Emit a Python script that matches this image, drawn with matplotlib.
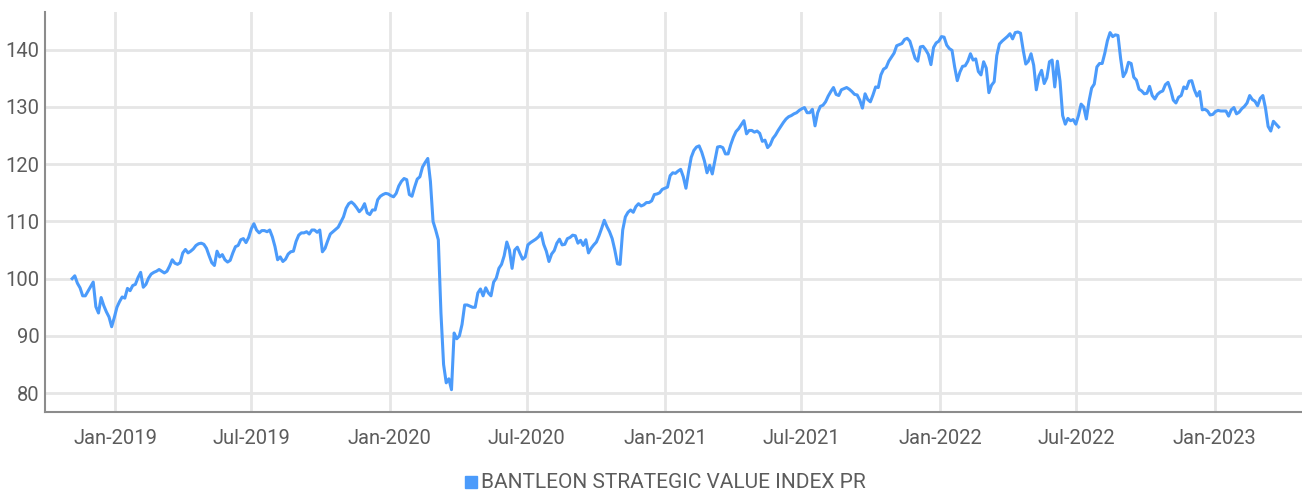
import matplotlib
matplotlib.use('Agg')
import matplotlib.pyplot as plt
import matplotlib.dates as mdates
import pandas as pd

# index closes: Mondays from 2018-11-05, plus the Thursday in between
start_date = '2018-11-05'
monday_values = [
    100.0, 99.2, 97.0, 97.8, 99.4, 94.0, 95.3, 93.3, 93.2, 96.0,
    96.6, 97.9, 99.0, 101.1, 99.0, 100.8, 101.3, 101.3, 101.3, 103.3,
    102.5, 104.5, 104.5, 105.2, 106.1, 106.0, 104.0, 102.3, 103.8, 103.3,
    103.2, 105.6, 106.8, 106.3, 108.7, 108.5, 108.4, 108.2, 107.3, 103.3,
    103.0, 104.3, 104.8, 107.6, 108.0, 107.8, 108.5, 108.5, 105.3, 107.8,
    108.6, 109.9, 112.3, 113.4, 112.4, 112.2, 111.5, 112.0, 113.8, 114.7,
    114.8, 114.3, 116.2, 117.5, 114.7, 116.0, 117.8, 120.3, 117.0, 108.5,
    94.0, 81.8, 80.6, 89.5, 92.0, 95.4, 95.0, 97.5, 97.0, 97.5,
    99.4, 101.8, 104.0, 105.0, 105.0, 104.4, 103.8, 106.3, 106.9, 108.0,
    104.8, 104.3, 106.2, 105.9, 107.0, 107.6, 106.2, 105.8, 104.5, 105.9,
    107.5, 110.2, 108.2, 105.0, 102.5, 110.8, 112.0, 112.6, 112.7, 113.3,
    113.6, 114.8, 115.6, 116.0, 118.5, 118.8, 117.8, 118.7, 122.4, 123.2,
    120.6, 119.8, 120.7, 123.1, 121.8, 123.4, 125.7, 126.9, 125.3, 125.9,
    125.8, 124.0, 122.9, 124.5, 125.9, 127.3, 128.3, 128.8, 129.4, 129.9,
    129.0, 126.7, 130.1, 130.9, 132.7, 132.2, 133.0, 133.4, 132.7, 132.1,
    129.8, 131.3, 132.1, 133.4, 136.6, 138.0, 139.4, 140.9, 141.8, 141.5,
    138.5, 140.5, 140.0, 137.4, 141.2, 142.3, 140.8, 139.9, 134.6, 137.1,
    138.0, 138.2, 136.2, 137.9, 132.5, 134.4, 141.0, 141.9, 142.8, 143.0,
    142.9, 137.5, 139.3, 133.0, 136.4, 135.1, 138.2, 138.0, 128.5, 128.0,
    127.8, 128.5, 130.0, 131.0, 134.0, 137.6, 139.4, 143.0, 142.6, 138.5,
    136.1, 137.6, 134.7, 132.8, 132.4, 132.0, 132.2, 132.8, 134.3, 131.2,
    131.7, 133.5, 134.5, 133.0, 132.7, 129.6, 128.6, 129.2, 129.3, 129.3,
    129.5, 128.8, 129.7, 130.7, 131.3, 130.2, 132.0, 126.6, 127.5, 126.5,
]
thursday_values = [
    100.5, 98.4, 97.0, 98.6, 95.1, 96.7, 94.2, 91.6, 95.0, 96.8,
    98.3, 98.8, 100.2, 98.5, 100.1, 101.1, 101.6, 101.0, 102.2, 102.7,
    102.8, 105.1, 104.8, 105.8, 106.2, 105.3, 102.8, 104.8, 104.2, 102.9,
    104.5, 105.8, 107.0, 107.2, 109.6, 108.0, 108.4, 108.5, 105.6, 103.8,
    103.4, 104.7, 106.5, 108.0, 108.2, 108.5, 108.1, 104.7, 106.6, 108.2,
    109.0, 110.8, 113.1, 113.0, 111.7, 113.1, 111.2, 112.0, 114.4, 114.9,
    114.5, 114.9, 117.0, 117.3, 114.4, 117.4, 119.5, 121.0, 110.0, 106.8,
    85.0, 82.5, 90.5, 90.0, 95.4, 95.2, 95.0, 98.2, 98.4, 97.0,
    100.1, 102.5, 106.4, 101.8, 105.5, 103.4, 105.9, 106.6, 107.3, 106.0,
    103.0, 104.9, 106.9, 106.0, 107.2, 107.5, 106.7, 106.8, 105.3, 106.4,
    108.8, 109.1, 107.0, 102.6, 108.5, 111.6, 111.6, 113.1, 112.9, 113.3,
    114.7, 115.0, 115.8, 118.0, 118.4, 119.1, 115.8, 121.2, 123.0, 122.1,
    118.5, 118.3, 123.0, 122.9, 121.8, 124.7, 126.2, 127.6, 125.9, 125.6,
    125.4, 124.2, 123.4, 125.1, 126.6, 127.9, 128.5, 129.0, 129.7, 129.0,
    129.6, 129.0, 130.3, 131.9, 133.4, 132.0, 133.2, 133.1, 132.2, 131.2,
    132.3, 130.9, 133.5, 135.6, 136.9, 138.7, 140.7, 141.1, 142.0, 140.0,
    138.0, 140.6, 139.2, 140.4, 141.5, 142.2, 140.2, 137.0, 136.1, 137.2,
    139.3, 138.4, 135.6, 136.8, 133.8, 139.0, 141.5, 142.3, 141.9, 143.1,
    140.0, 138.0, 137.3, 135.4, 134.1, 137.9, 133.5, 134.5, 127.0, 127.6,
    127.0, 130.5, 127.9, 133.3, 137.0, 137.6, 141.6, 142.3, 142.5, 135.3,
    137.8, 135.2, 133.1, 132.3, 133.6, 131.4, 132.6, 133.9, 133.0, 130.7,
    132.0, 133.2, 134.6, 131.9, 129.5, 129.3, 128.7, 129.4, 129.3, 128.4,
    129.9, 129.1, 130.1, 132.0, 131.0, 131.5, 129.8, 125.8, 127.0,
]
series_name = 'BANTLEON STRATEGIC VALUE INDEX PR'
y_ticks = [80, 90, 100, 110, 120, 130, 140]

mondays = pd.date_range(start_date, periods=len(monday_values), freq='7D')
thursdays = mondays[:len(thursday_values)] + pd.Timedelta(hours=84)
index = pd.concat([pd.Series(monday_values, index=mondays),
                   pd.Series(thursday_values, index=thursdays)]).sort_index()

line_color = '#4b9bfb'
text_color = '#5c5c5c'
grid_color = '#e6e6e6'
spine_color = '#8c8c8c'

plt.rcParams['font.family'] = ['Roboto', 'DejaVu Sans']

fig = plt.figure(figsize=(13.02, 4.93), dpi=100)
ax = fig.add_axes([0.0346, 0.1643, 0.9654, 0.8114])

ax.plot(index.index, index.values, color=line_color, lw=2.2, solid_joinstyle='round')

ax.set_xlim(pd.Timestamp('2018-09-30'), pd.Timestamp('2023-04-27'))
ax.set_ylim(76.7, 146.6)
ax.set_yticks(y_ticks)
ax.xaxis.set_major_locator(mdates.MonthLocator(bymonth=[1, 7]))
ax.xaxis.set_major_formatter(mdates.DateFormatter('%b-%Y'))

ax.grid(True, color=grid_color, lw=2.0)
ax.set_axisbelow(True)
for side in ('top', 'right'):
    ax.spines[side].set_visible(False)
for side in ('left', 'bottom'):
    ax.spines[side].set_color(spine_color)
    ax.spines[side].set_linewidth(1.5)

ax.tick_params(axis='both', length=0, labelsize=14.5, labelcolor=text_color)
ax.tick_params(axis='x', pad=12)
ax.tick_params(axis='y', pad=4)

# legend entry below the axis
fig.patches.append(plt.Rectangle((465 / 1302, 1 - 488 / 493), 12 / 1302, 12 / 493,
                                 transform=fig.transFigure, color=line_color))
fig.text(481 / 1302, 1 - 482 / 493, series_name, fontsize=15, color=text_color,
         va='center', ha='left')

fig.savefig('out.png', dpi=100)
